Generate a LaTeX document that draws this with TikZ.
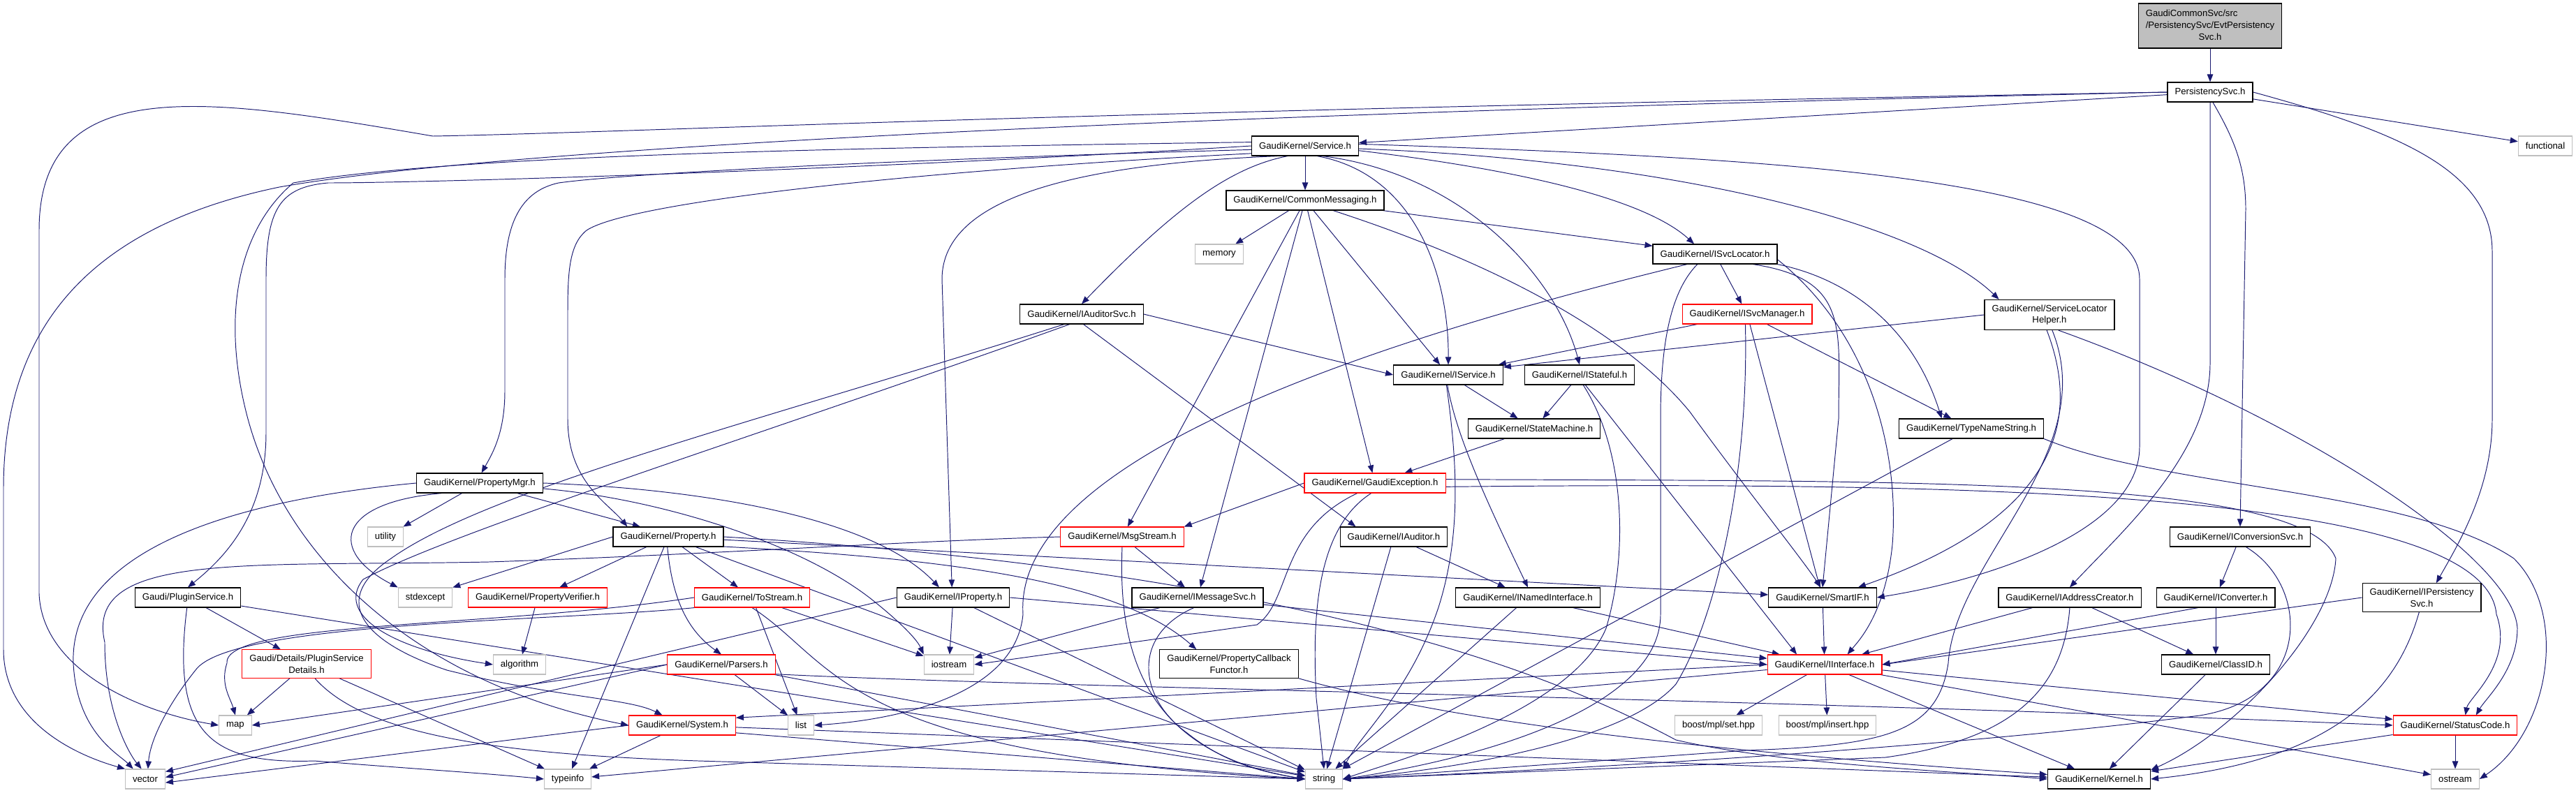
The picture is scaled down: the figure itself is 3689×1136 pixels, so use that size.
\documentclass[tikz,border=0pt]{standalone}
\usepackage{fontspec}
\setmainfont{Liberation Sans}
\usetikzlibrary{arrows.meta,backgrounds}
\definecolor{edgeblue}{HTML}{191970}
\definecolor{sysgray}{HTML}{BFBFBF}
\newcommand\dotfont{\fontsize{7.5}{9.5}\selectfont}
\tikzset{
  hdr/.style={draw=black, line width=0.7pt, fill=white, font=\dotfont,
    inner xsep=6pt, inner ysep=4pt, minimum height=0.56cm, align=center},
  hdrred/.style={hdr, draw=red, line width=0.6pt},
  hdrsys/.style={hdr, draw=sysgray, line width=0.6pt},
  hdrroot/.style={hdr, fill=sysgray},
  dep/.style={draw=edgeblue, line width=0.55pt, -{Triangle[length=0.22cm,width=0.17cm]}}
}

\begin{document}
\begin{tikzpicture}[x=0.02cm,y=-0.02cm]
\useasboundingbox (0,0) rectangle (3689,1136);

%the header files
\node[hdrroot] (root) at (3165,37) {\begin{tabular}{@{}l@{}}GaudiCommonSvc/src\\/PersistencySvc/EvtPersistency\\\multicolumn{1}{@{}c@{}}{Svc.h}\end{tabular}};
\node[hdr] (psvc) at (3165,132) {PersistencySvc.h};
\node[hdrsys] (func) at (3645,209) {functional};
\node[hdr] (service) at (1869,209) {GaudiKernel/Service.h};
\node[hdr] (cmsg) at (1869,287) {GaudiKernel/CommonMessaging.h};
\node[hdrsys] (memory) at (1746,364) {memory};
\node[hdr] (isvcloc) at (2456,364) {GaudiKernel/ISvcLocator.h};
\node[hdr] (slh) at (2935,451) {GaudiKernel/ServiceLocator\\Helper.h};
\node[hdr] (iaudsvc) at (1549,450) {GaudiKernel/IAuditorSvc.h};
\node[hdrred] (isvcmgr) at (2502,450) {GaudiKernel/ISvcManager.h};
\node[hdr] (iservice) at (2074,537) {GaudiKernel/IService.h};
\node[hdr] (istateful) at (2262,537) {GaudiKernel/IStateful.h};
\node[hdr] (statem) at (2197,614) {GaudiKernel/StateMachine.h};
\node[hdr] (tns) at (2823,614) {GaudiKernel/TypeNameString.h};
\node[hdr] (pmgr) at (687,692) {GaudiKernel/PropertyMgr.h};
\node[hdrred] (gexc) at (1969,692) {GaudiKernel/GaudiException.h};
\node[hdrsys] (utility) at (552,769) {utility};
\node[hdr] (property) at (957,769) {GaudiKernel/Property.h};
\node[hdrred] (msgstream) at (1607,769) {GaudiKernel/MsgStream.h};
\node[hdr] (iauditor) at (1996,769) {GaudiKernel/IAuditor.h};
\node[hdr] (iconvsvc) at (3208,769) {GaudiKernel/IConversionSvc.h};
\node[hdr] (pluginsvc) at (269,856) {Gaudi/PluginService.h};
\node[hdrsys] (stdexcept) at (609,856) {stdexcept};
\node[hdrred] (pverifier) at (770,856) {GaudiKernel/PropertyVerifier.h};
\node[hdrred] (tostream) at (1077,856) {GaudiKernel/ToStream.h};
\node[hdr] (iproperty) at (1365,856) {GaudiKernel/IProperty.h};
\node[hdr] (imsgsvc) at (1715,856) {GaudiKernel/IMessageSvc.h};
\node[hdr] (inamed) at (2188,856) {GaudiKernel/INamedInterface.h};
\node[hdr] (smartif) at (2610,856) {GaudiKernel/SmartIF.h};
\node[hdr] (iaddr) at (2964,856) {GaudiKernel/IAddressCreator.h};
\node[hdr] (iconv) at (3173,856) {GaudiKernel/IConverter.h};
\node[hdr] (ipsvc) at (3468,856) {GaudiKernel/IPersistency\\Svc.h};
\node[hdrred] (psdetails) at (439,951) {Gaudi/Details/PluginService\\Details.h};
\node[hdrsys] (algorithm) at (744,952) {algorithm};
\node[hdrred] (parsers) at (1033,952) {GaudiKernel/Parsers.h};
\node[hdrsys] (iostream) at (1359,952) {iostream};
\node[hdr] (pcbf) at (1760,951) {GaudiKernel/PropertyCallback\\Functor.h};
\node[hdrred] (iinterface) at (2613,952) {GaudiKernel/IInterface.h};
\node[hdr] (classid) at (3173,952) {GaudiKernel/ClassID.h};
\node[hdrsys] (map) at (337,1039) {map};
\node[hdrred] (system) at (977,1039) {GaudiKernel/System.h};
\node[hdrsys] (list) at (1147,1039) {list};
\node[hdrsys] (bset) at (2461,1039) {boost/mpl/set.hpp};
\node[hdrsys] (binsert) at (2617,1039) {boost/mpl/insert.hpp};
\node[hdrred] (statuscode) at (3516,1039) {GaudiKernel/StatusCode.h};
\node[hdrsys] (vector) at (208,1116) {vector};
\node[hdrsys] (typeinfo) at (813,1116) {typeinfo};
\node[hdrsys] (string) at (1896,1116) {string};
\node[hdr] (kernel) at (3006,1116) {GaudiKernel/Kernel.h};
\node[hdrsys] (ostream) at (3516,1116) {ostream};

\begin{pgfonlayer}{background}
%includes of the two top files
\draw[dep] (root) -- (psvc);
\draw[dep] (psvc) -- (service);
\draw[dep] (psvc) -- (func);
\draw[dep] (psvc.west) .. controls (1500,160) and (900,190) .. (620,195) .. controls (300,140) and (56,100) .. (56,330) -- (56,850) .. controls (60,960) and (200,1020) .. (map.west);
\draw[dep] (psvc.west) .. controls (1600,165) and (700,215) .. (400,268) .. controls (150,320) and (5,450) .. (5,700) -- (5,930) .. controls (5,1040) and (120,1085) .. (vector.north west);
\draw[dep] (psvc.south) -- (3165,520) .. controls (3165,650) and (3040,760) .. (iaddr.north);
\draw[dep] (psvc.-75) .. controls (3200,200) and (3216,240) .. (3216,300) -- (iconvsvc.north);
\draw[dep] (psvc.east) .. controls (3420,185) and (3569,240) .. (3569,360) -- (3569,600) .. controls (3569,700) and (3520,780) .. (ipsvc.45);

%Service.h
\draw[dep] (service) -- (cmsg);
\draw[dep] (service.-150) .. controls (1760,240) and (1680,300) .. (iaudsvc.north);
\draw[dep] (service.-40) .. controls (2030,250) and (2075,400) .. (iservice.north);
\draw[dep] (service.-30) .. controls (2100,250) and (2230,400) .. (istateful.north);
\draw[dep] (service.-5) .. controls (2150,240) and (2350,280) .. (isvcloc.154);
\draw[dep] (service.-3) .. controls (2400,230) and (2750,320) .. (slh.163);
\draw[dep] (service.2) .. controls (2500,225) and (3064,250) .. (3064,400) -- (3064,640) .. controls (3064,760) and (2850,830) .. (smartif.east);
\draw[dep] (service.200) .. controls (1550,235) and (1349,280) .. (1349,400) -- (iproperty.97);
\draw[dep] (service.188) .. controls (1300,245) and (900,290) .. (840,330) .. controls (815,350) and (813,390) .. (813,450) -- (813,600) .. controls (813,690) and (870,720) .. (property.166);
\draw[dep] (service.184) .. controls (1300,228) and (900,248) .. (800,262) .. controls (740,275) and (723,330) .. (723,400) -- (723,560) .. controls (723,620) and (705,650) .. (pmgr.80);
\draw[dep] (service.180) .. controls (1200,245) and (600,262) .. (470,262) .. controls (400,268) and (381,300) .. (381,400) -- (381,620) .. controls (381,740) and (320,800) .. (pluginsvc.north);
\draw[dep] (service.176) .. controls (1200,212) and (650,222) .. (420,262) .. controls (340,330) and (320,450) .. (350,580) .. controls (400,800) and (600,980) .. (system.west);

%CommonMessaging.h and the service interfaces
\draw[dep] (cmsg) -- (memory);
\draw[dep] (cmsg) -- (isvcloc);
\draw[dep] (cmsg) -- (iservice);
\draw[dep] (cmsg) -- (imsgsvc);
\draw[dep] (cmsg) -- (msgstream);
\draw[dep] (cmsg) -- (gexc);
\draw[dep] (cmsg.-20) .. controls (2150,380) and (2330,480) .. (2420,590) .. controls (2500,700) and (2580,800) .. (smartif.100);
\draw[dep] (isvcloc) -- (isvcmgr);
\draw[dep] (isvcloc.south east) .. controls (2650,400) and (2740,470) .. (tns.161);
\draw[dep] (isvcloc.-15) .. controls (2650,400) and (2633,470) .. (2633,600) -- (smartif.north);
\draw[dep] (isvcloc.-5) .. controls (2680,480) and (2720,650) .. (2710,780) .. controls (2700,880) and (2660,920) .. (iinterface.24);
\draw[dep] (isvcloc.-150) .. controls (2390,420) and (2378,500) .. (2378,600) -- (2378,880) .. controls (2378,1020) and (2100,1090) .. (string.east);
\draw[dep] (isvcloc.-160) .. controls (2000,480) and (1450,650) .. (1465,880) .. controls (1455,990) and (1300,1030) .. (list.east);
\draw[dep] (slh.west) -- (iservice.8);
\draw[dep] (slh.-100) .. controls (2980,600) and (2950,740) .. (smartif.16);
\draw[dep] (slh.-80) .. controls (3010,650) and (2800,800) .. (2790,950) .. controls (2775,1050) and (2700,1068) .. (2500,1075) -- (string.east);
\draw[dep] (slh.-60) .. controls (3300,600) and (3600,800) .. (3605,900) .. controls (3605,960) and (3560,1000) .. (statuscode.26);
\draw[dep] (iaudsvc.-80) -- (iauditor.165);
\draw[dep] (iaudsvc.east) -- (iservice.west);
\draw[dep] (iaudsvc.-150) .. controls (1100,600) and (700,700) .. (560,800) .. controls (470,860) and (520,920) .. (640,960) .. controls (800,1000) and (900,1000) .. (system.153);
\draw[dep] (iaudsvc.-140) .. controls (1100,620) and (650,760) .. (520,830) .. controls (480,880) and (560,930) .. (algorithm.west);
\draw[dep] (isvcmgr) -- (iservice);
\draw[dep] (isvcmgr) -- (smartif);
\draw[dep] (isvcmgr) -- (tns);
\draw[dep] (isvcmgr.-100) .. controls (2505,700) and (2450,900) .. (2400,980) .. controls (2330,1060) and (2100,1100) .. (string.east);
\draw[dep] (iservice) -- (statem);
\draw[dep] (iservice.-95) .. controls (2085,620) and (2120,700) .. (inamed.north);
\draw[dep] (iservice.-100) .. controls (2085,650) and (2095,760) .. (2060,870) .. controls (2020,990) and (1950,1050) .. (string.north east);
\draw[dep] (istateful) -- (statem);
\draw[dep] (istateful.-70) .. controls (2330,650) and (2330,800) .. (2300,900) .. controls (2250,1020) and (2000,1090) .. (string.east);
\draw[dep] (istateful.-60) -- (iinterface.160);
\draw[dep] (statem) -- (gexc);
\draw[dep] (tns) -- (string);
\draw[dep] (tns.south east) .. controls (3100,700) and (3450,700) .. (3600,800) .. controls (3680,880) and (3650,1050) .. (ostream.east);

%GaudiException.h
\draw[dep] (gexc.west) -- (msgstream.north east);
\draw[dep] (gexc.-150) .. controls (1830,760) and (1850,860) .. (1800,895) -- (iostream.east);
\draw[dep] (gexc.-110) .. controls (1880,760) and (1880,900) .. (1885,1000) -- (string.north);
\draw[dep] (gexc.3) .. controls (2700,690) and (3300,680) .. (3345,800) .. controls (3340,900) and (3200,1050) .. (kernel.10);
\draw[dep] (gexc.-3) .. controls (2800,690) and (3560,700) .. (3575,880) .. controls (3600,950) and (3535,1000) .. (statuscode.45);

%PropertyMgr.h and Property.h
\draw[dep] (pmgr) -- (property.160);
\draw[dep] (pmgr.east) .. controls (1000,700) and (1250,740) .. (iproperty.144);
\draw[dep] (pmgr.-5) .. controls (950,715) and (1150,780) .. (1250,860) .. controls (1300,900) and (1315,920) .. (iostream.north west);
\draw[dep] (pmgr.west) .. controls (300,720) and (100,800) .. (105,950) .. controls (110,1050) and (170,1080) .. (vector.140);
\draw[dep] (pmgr) -- (utility);
\draw[dep] (pmgr.-165) .. controls (480,720) and (470,790) .. (stdexcept.north west);
\draw[dep] (property.west) -- (stdexcept.north east);
\draw[dep] (property) -- (pverifier);
\draw[dep] (property) -- (tostream);
\draw[dep] (property.-95) .. controls (962,850) and (980,900) .. (parsers.north);
\draw[dep] (property) -- (typeinfo);
\draw[dep] (property) -- (string);
\draw[dep] (property) -- (smartif);
\draw[dep] (property.east) .. controls (1900,820) and (2250,980) .. (2400,1060) .. controls (2550,1095) and (2800,1105) .. (kernel.west);
\draw[dep] (property.-10) .. controls (1350,800) and (1600,830) .. (pcbf.156);

%messaging
\draw[dep] (msgstream) -- (imsgsvc);
\draw[dep] (msgstream.south) .. controls (1600,950) and (1650,1080) .. (string.west);
\draw[dep] (msgstream.west) .. controls (1300,775) and (1000,795) .. (700,805) .. controls (350,812) and (120,790) .. (150,920) .. controls (150,1020) and (185,1080) .. (vector.110);
\draw[dep] (imsgsvc) -- (iostream);
\draw[dep] (imsgsvc.-110) .. controls (1620,910) and (1630,1000) .. (1700,1050) .. controls (1750,1090) and (1800,1105) .. (string.west);
\draw[dep] (imsgsvc) -- (iinterface);
\draw[dep] (iproperty.west) -- (vector.20);
\draw[dep] (iproperty) -- (iostream);
\draw[dep] (iproperty) -- (string);
\draw[dep] (iproperty.east) -- (iinterface.west);
\draw[dep] (iauditor) -- (inamed);
\draw[dep] (iauditor) -- (string);
\draw[dep] (inamed) -- (iinterface);
\draw[dep] (inamed) -- (string);
\draw[dep] (smartif) -- (iinterface);

%conversion service side
\draw[dep] (iaddr) -- (iinterface);
\draw[dep] (iaddr.south) .. controls (2955,990) and (2880,1060) .. (2700,1085) -- (string.east);
\draw[dep] (iaddr) -- (classid);
\draw[dep] (iconv.-150) -- (iinterface.east);
\draw[dep] (iconv) -- (classid);
\draw[dep] (iconvsvc) -- (iconv);
\draw[dep] (iconvsvc.-60) .. controls (3310,840) and (3310,1000) .. (3150,1025) .. controls (2800,1070) and (2300,1100) .. (string.east);
\draw[dep] (ipsvc.west) -- (iinterface.east);
\draw[dep] (ipsvc.-100) .. controls (3430,1000) and (3330,1090) .. (kernel.east);

%plugin service
\draw[dep] (pluginsvc) -- (psdetails);
\draw[dep] (pluginsvc.-95) .. controls (245,1050) and (300,1095) .. (450,1090) .. controls (600,1102) and (700,1108) .. (typeinfo.west);
\draw[dep] (pluginsvc) -- (string);
\draw[dep] (psdetails) -- (map);
\draw[dep] (psdetails) -- (typeinfo);
\draw[dep] (psdetails.-60) .. controls (520,1050) and (700,1080) .. (1000,1090) -- (string.west);
\draw[dep] (pverifier) -- (algorithm);

%ToStream.h and Parsers.h
\draw[dep] (tostream.west) .. controls (700,900) and (320,890) .. (325,950) .. controls (315,980) and (330,1000) .. (map.north);
\draw[dep] (tostream.190) .. controls (800,890) and (330,890) .. (280,960) .. controls (240,1010) and (215,1060) .. (vector.75);
\draw[dep] (tostream) -- (iostream);
\draw[dep] (tostream) -- (list);
\draw[dep] (tostream.south) .. controls (1200,950) and (1200,1080) .. (string.west);
\draw[dep] (parsers.west) -- (map.east);
\draw[dep] (parsers.west) -- (vector.5);
\draw[dep] (parsers) -- (list);
\draw[dep] (parsers) -- (string);
\draw[dep] (parsers.-10) .. controls (1500,985) and (2500,1000) .. (statuscode.west);
\draw[dep] (pcbf.south east) .. controls (2100,1040) and (2500,1080) .. (kernel.175);

%IInterface.h and the bottom row
\draw[dep] (iinterface.west) -- (system.8);
\draw[dep] (iinterface) -- (bset);
\draw[dep] (iinterface) -- (binsert);
\draw[dep] (iinterface) -- (kernel);
\draw[dep] (iinterface) -- (statuscode);
\draw[dep] (iinterface) -- (ostream);
\draw[dep] (iinterface) -- (typeinfo);
\draw[dep] (classid) -- (kernel);
\draw[dep] (statuscode) -- (kernel);
\draw[dep] (statuscode) -- (ostream);
\draw[dep] (system.west) -- (vector.-10);
\draw[dep] (system) -- (typeinfo);
\draw[dep] (system.-8) -- (string.west);
\draw[dep] (system) -- (kernel);
\end{pgfonlayer}
\end{tikzpicture}
\end{document}
